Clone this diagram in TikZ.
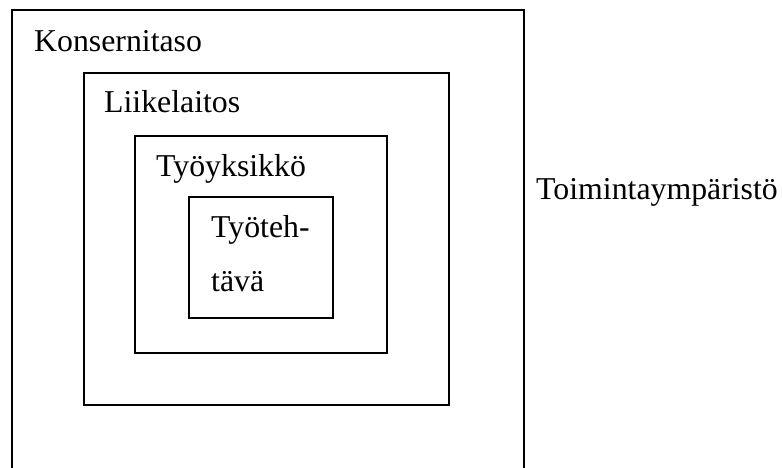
\documentclass[tikz,border=0pt]{standalone}
\usepackage{fontspec}
\setmainfont{Liberation Serif}
\begin{document}
\begin{tikzpicture}[x=1pt,y=-1pt,
  frame/.style={draw=black,line width=1.8pt},
  lbl/.style={anchor=base west,inner sep=0pt,font=\fontsize{31.8}{36}\selectfont}]
\useasboundingbox (0,0) rectangle (782,468);
\clip (0,0) rectangle (782,468);
% outer level (bottom edge runs off the picture)
\draw[frame] (12,480) -- (12,10) -- (524,10) -- (524,480);
\node[lbl] (konserni) at (34,52) {Konsernitaso};
% nested boxes
\draw[frame] (84,73) rectangle (449,405);
\node[lbl] (liike) at (104,113) {Liikelaitos};
\draw[frame] (135,136) rectangle (387,353);
\node[lbl] (yksikko) at (156,177) {Työyksikkö};
\draw[frame] (189,197) rectangle (333,318);
\node[lbl] (teh1) at (211,237) {Työteh-};
\node[lbl] (teh2) at (211,291) {tävä};
% environment label
\node[lbl] (ymparisto) at (536,199) {Toimintaympäristö};
\end{tikzpicture}
\end{document}
